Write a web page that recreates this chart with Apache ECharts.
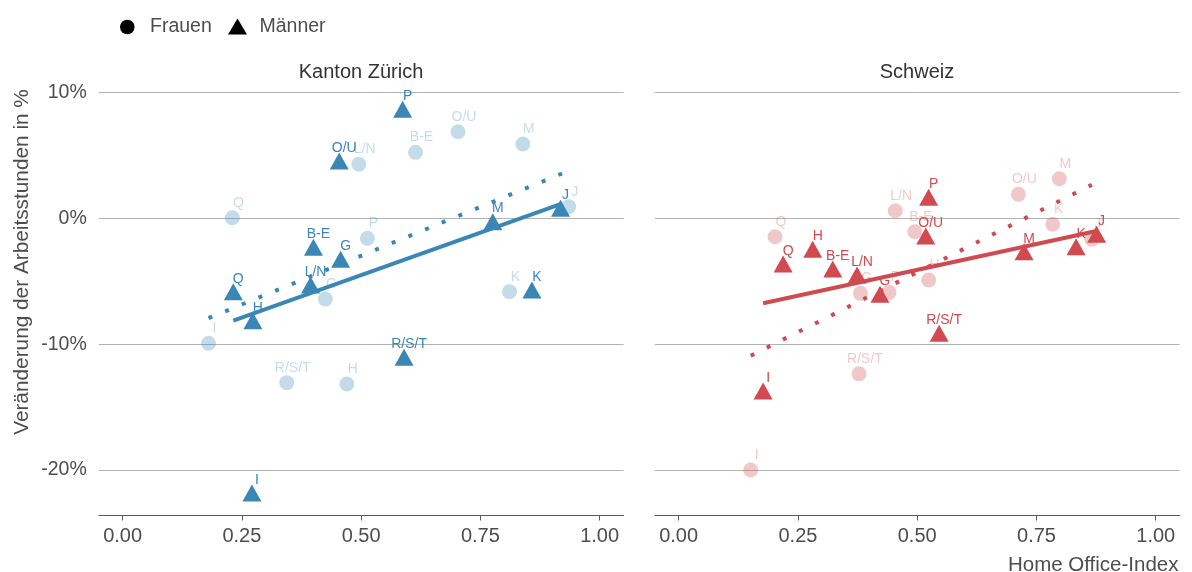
<!DOCTYPE html>
<html>
<head>
<meta charset="utf-8">
<script src="https://cdn.jsdelivr.net/npm/echarts@6/dist/echarts.min.js"></script>
<style>
  html, body { margin: 0; padding: 0; background: #fff; }
  #chart { width: 1192px; height: 572px; }
</style>
</head>
<body>
<div id="chart"></div>
<script>
    // Branchen (NOGA-Abschnitte)
    var branchen = ['B-E', 'G', 'H', 'I', 'J', 'K', 'L/N', 'M', 'O/U', 'P', 'Q', 'R/S/T'];

    // Kanton Zürich
    var zhFrauenX = [0.614, 0.425, 0.470, 0.180, 0.935, 0.811, 0.495, 0.839, 0.703, 0.513, 0.230, 0.344];
    var zhFrauenY = [5.26, -6.40, -13.16, -9.92, 0.94, -5.82, 4.31, 5.92, 6.90, -1.57, 0.06, -13.05];
    var zhMaennerX = [0.400, 0.457, 0.273, 0.271, 0.918, 0.858, 0.394, 0.776, 0.454, 0.587, 0.232, 0.590];
    var zhMaennerY = [-2.29, -3.24, -8.12, -21.82, 0.81, -5.68, -5.29, -0.25, 4.57, 8.68, -5.82, -11.03];

    // Schweiz
    var chFrauenX = [0.495, 0.381, 0.524, 0.151, 0.866, 0.784, 0.454, 0.798, 0.712, 0.441, 0.202, 0.378];
    var chFrauenY = [-1.05, -5.95, -4.89, -19.99, -1.65, -0.46, 0.62, 3.16, 1.92, -5.87, -1.45, -12.35];
    var chMaennerX = [0.323, 0.422, 0.281, 0.177, 0.876, 0.833, 0.374, 0.724, 0.518, 0.524, 0.219, 0.546];
    var chMaennerY = [-4.01, -6.03, -2.45, -13.71, -1.26, -2.24, -4.49, -2.64, -1.39, 1.69, -3.62, -9.13];

    var zhFitFrauenX = [0.180, 0.935], zhFitFrauenY = [-7.92, 3.79];
    var zhFitMaennerX = [0.232, 0.918], zhFitMaennerY = [-8.12, 1.15];
    var chFitFrauenX = [0.151, 0.866], chFitFrauenY = [-10.91, 2.68];
    var chFitMaennerX = [0.177, 0.876], chFitMaennerY = [-6.74, -0.99];

    var xTicks = [0, 0.25, 0.5, 0.75, 1];
    var yTicks = [-20, -10, 0, 10];

    var blau = '#3a87b5';
    var rot = '#d04a50';
    var textFarbe = '#4d4d4d';
    var font = 'Liberation Sans, Arial, sans-serif';

    var yMin = -23.61, yMax = 10.6;

    function punkte(xs, ys) {
        return branchen.map(function (b, i) {
            return { name: b, value: [xs[i], ys[i]] };
        });
    }

    function scatter(name, xs, ys, idx, symbol, size, color, opacity, offset, z) {
        return {
            name: name,
            type: 'scatter',
            xAxisIndex: idx,
            yAxisIndex: idx,
            symbol: symbol,
            symbolSize: size,
            z: z,
            itemStyle: { color: color, opacity: opacity },
            label: {
                show: true,
                position: 'inside',
                offset: offset,
                formatter: '{b}',
                fontSize: 14,
                fontFamily: font,
                color: color,
                opacity: opacity
            },
            emphasis: { disabled: true },
            data: punkte(xs, ys)
        };
    }

    function fit(name, xs, ys, idx, color, dotted, z) {
        return {
            name: name,
            type: 'line',
            xAxisIndex: idx,
            yAxisIndex: idx,
            showSymbol: false,
            silent: true,
            z: z,
            lineStyle: {
                color: color,
                width: 4,
                type: dotted ? [4, 14] : 'solid',
                cap: 'butt'
            },
            data: [[xs[0], ys[0]], [xs[1], ys[1]]]
        };
    }

    function xAchse(idx) {
        return {
            type: 'value',
            gridIndex: idx,
            min: -0.05,
            max: 1.05,
            minInterval: 0.25,
            maxInterval: 0.25,
            axisLine: { show: true, onZero: false, lineStyle: { color: '#5a5a5a', width: 1 } },
            axisTick: { show: true, length: 5, customValues: xTicks, lineStyle: { color: '#5a5a5a' } },
            axisLabel: {
                customValues: xTicks,
                hideOverlap: false,
                margin: 11,
                fontSize: 20,
                fontFamily: font,
                color: textFarbe,
                formatter: function (v) { return v.toFixed(2); }
            },
            splitLine: { show: false }
        };
    }

    function yAchse(idx, labels) {
        return {
            type: 'value',
            gridIndex: idx,
            min: yMin,
            max: yMax,
            minInterval: 10,
            maxInterval: 10,
            axisLine: { show: false },
            axisTick: { show: false },
            axisLabel: {
                show: labels,
                customValues: yTicks,
                hideOverlap: false,
                margin: 12,
                fontSize: 19.5,
                fontFamily: font,
                color: textFarbe,
                formatter: function (v) { return v + '%'; }
            },
            splitLine: {
                show: true,
                showMinLine: false,
                showMaxLine: false,
                lineStyle: { color: '#b3b3b3', width: 1 }
            }
        };
    }

    var myChart = echarts.init(document.getElementById('chart'), null, { renderer: 'canvas' });

    var option = {
        animation: false,
        backgroundColor: '#fff',
        textStyle: { fontFamily: font },
        title: [{
            text: 'Kanton Zürich',
            left: 361,
            top: 62,
            padding: 0,
            textAlign: 'center',
            textStyle: { fontSize: 20, fontWeight: 'normal', color: '#333', fontFamily: font }
        }, {
            text: 'Schweiz',
            left: 917,
            top: 62,
            padding: 0,
            textAlign: 'center',
            textStyle: { fontSize: 20, fontWeight: 'normal', color: '#333', fontFamily: font }
        }],
        grid: [
            { left: 98.8, top: 85.15, width: 524.7, height: 430.35 },
            { left: 654.8, top: 85.15, width: 524.8, height: 430.35 }
        ],
        xAxis: [xAchse(0), xAchse(1)],
        yAxis: [yAchse(0, true), yAchse(1, false)],
        graphic: [
            // Legende
            { type: 'circle', shape: { cx: 127.3, cy: 27, r: 7.3 }, style: { fill: '#000' } },
            { type: 'text', x: 150, y: 27, style: { text: 'Frauen', fontSize: 19.5, fontFamily: font, fill: textFarbe, verticalAlign: 'middle' } },
            { type: 'polygon', shape: { points: [[237.5, 18.5], [247, 34.5], [228, 34.5]] }, style: { fill: '#000' } },
            { type: 'text', x: 259.5, y: 27, style: { text: 'Männer', fontSize: 19.5, fontFamily: font, fill: textFarbe, verticalAlign: 'middle' } },
            // Achsentitel
            {
                type: 'text', x: 22, y: 262, rotation: Math.PI / 2,
                style: { text: 'Veränderung der Arbeitsstunden in %', fontSize: 20.8, fontFamily: font, fill: textFarbe, align: 'center', verticalAlign: 'middle' }
            },
            {
                type: 'text', x: 1178.5, y: 565,
                style: { text: 'Home Office-Index', fontSize: 20.5, fontFamily: font, fill: textFarbe, align: 'right', verticalAlign: 'middle' }
            }
        ],
        series: [
            scatter('Frauen', zhFrauenX, zhFrauenY, 0, 'circle', 15, blau, 0.3, [6, -15], 2),
            fit('Frauen Trend ZH', zhFitFrauenX, zhFitFrauenY, 0, blau, true, 3),
            fit('Männer Trend ZH', zhFitMaennerX, zhFitMaennerY, 0, blau, false, 3),
            scatter('Männer', zhMaennerX, zhMaennerY, 0, 'triangle', [19, 17], blau, 1, [5, -13], 4),

            scatter('Frauen', chFrauenX, chFrauenY, 1, 'circle', 15, rot, 0.3, [6, -15], 2),
            fit('Frauen Trend CH', chFitFrauenX, chFitFrauenY, 1, rot, true, 3),
            fit('Männer Trend CH', chFitMaennerX, chFitMaennerY, 1, rot, false, 3),
            scatter('Männer', chMaennerX, chMaennerY, 1, 'triangle', [19, 17], rot, 1, [5, -13], 4)
        ]
    };

    myChart.setOption(option);
</script>
</body>
</html>
